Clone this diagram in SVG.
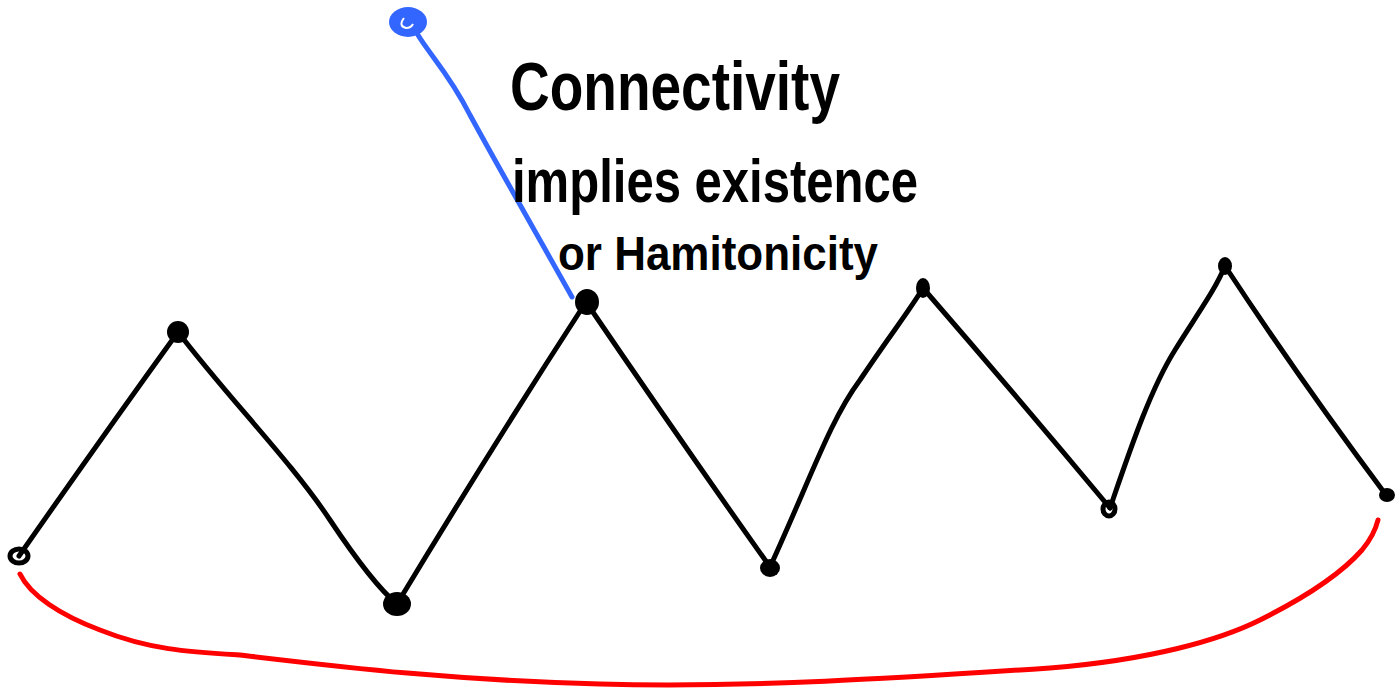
<svg xmlns="http://www.w3.org/2000/svg" width="1400" height="689" viewBox="0 0 1400 689">
<style>
.e{fill:none;stroke:#000;stroke-width:5;stroke-linecap:round;stroke-linejoin:round}
.n{fill:#000}
.r{fill:none;stroke:#000;stroke-width:5}
.t{font-family:"Liberation Sans",Arial,sans-serif;font-weight:bold;fill:#000}
</style>
<rect width="1400" height="689" fill="#fff"/>
<g id="connectors">
<path class="e" d="M19,556 Q100,440 178,332"/>
<path class="e" d="M178,332 C230,400 290,460 330,520 C360,565 380,590 397,604"/>
<path class="e" d="M397,604 Q490,450 586,302"/>
<path class="e" d="M586,302 Q680,440 770,567"/>
<path class="e" d="M770,567 C810,480 830,420 860,380 C890,335 910,310 923,288"/>
<path class="e" d="M923,288 Q1020,400 1110,508"/>
<path class="e" d="M1110,508 C1130,450 1150,390 1175,350 C1200,310 1215,290 1225,266"/>
<path class="e" d="M1225,266 Q1300,380 1386,495"/>
<path fill="none" stroke="#3366ff" stroke-width="5" stroke-linecap="round" d="M418,35 C430,55 450,75 470,115 C500,170 540,240 572,297"/>
<path fill="none" stroke="#ff0000" stroke-width="5" stroke-linecap="round" d="M20,574 C30,595 60,615 100,630 C150,650 190,652 240,655 C350,668 450,680 600,684 C750,688 900,678 1050,668 C1150,660 1220,640 1260,620 C1300,600 1340,575 1362,550 C1372,538 1376,528 1378,520"/>
</g>
<g id="node-blue"><ellipse cx="408" cy="22" rx="19" ry="15" fill="#3366ff"/><path d="M404,18 Q398,26 406,28 Q411,28 413,24" fill="none" stroke="#fff" stroke-width="2"/></g>
<g id="node-1"><ellipse class="r" cx="19" cy="556" rx="9" ry="7"/></g>
<g id="node-2"><ellipse class="n" cx="178" cy="332" rx="11" ry="11"/></g>
<g id="node-3"><ellipse class="n" cx="397" cy="604" rx="14" ry="12"/></g>
<g id="node-4"><ellipse class="n" cx="587" cy="302" rx="12" ry="13"/></g>
<g id="node-5"><ellipse class="n" cx="770" cy="568" rx="10" ry="9"/></g>
<g id="node-6"><ellipse class="n" cx="923" cy="288" rx="7" ry="10"/></g>
<g id="node-7"><ellipse class="r" cx="1109" cy="509" rx="6" ry="7"/></g>
<g id="node-8"><ellipse class="n" cx="1225" cy="266" rx="7" ry="9"/></g>
<g id="node-9"><ellipse class="n" cx="1387" cy="495" rx="8" ry="7"/></g>
<g id="label">
<text class="t" x="510" y="110" font-size="68" textLength="330" lengthAdjust="spacingAndGlyphs">Connectivity</text>
<text class="t" x="512" y="202" font-size="62" textLength="406" lengthAdjust="spacingAndGlyphs">implies existence</text>
<text class="t" x="558" y="270" font-size="48" textLength="320" lengthAdjust="spacingAndGlyphs">or Hamitonicity</text>
</g>
</svg>
